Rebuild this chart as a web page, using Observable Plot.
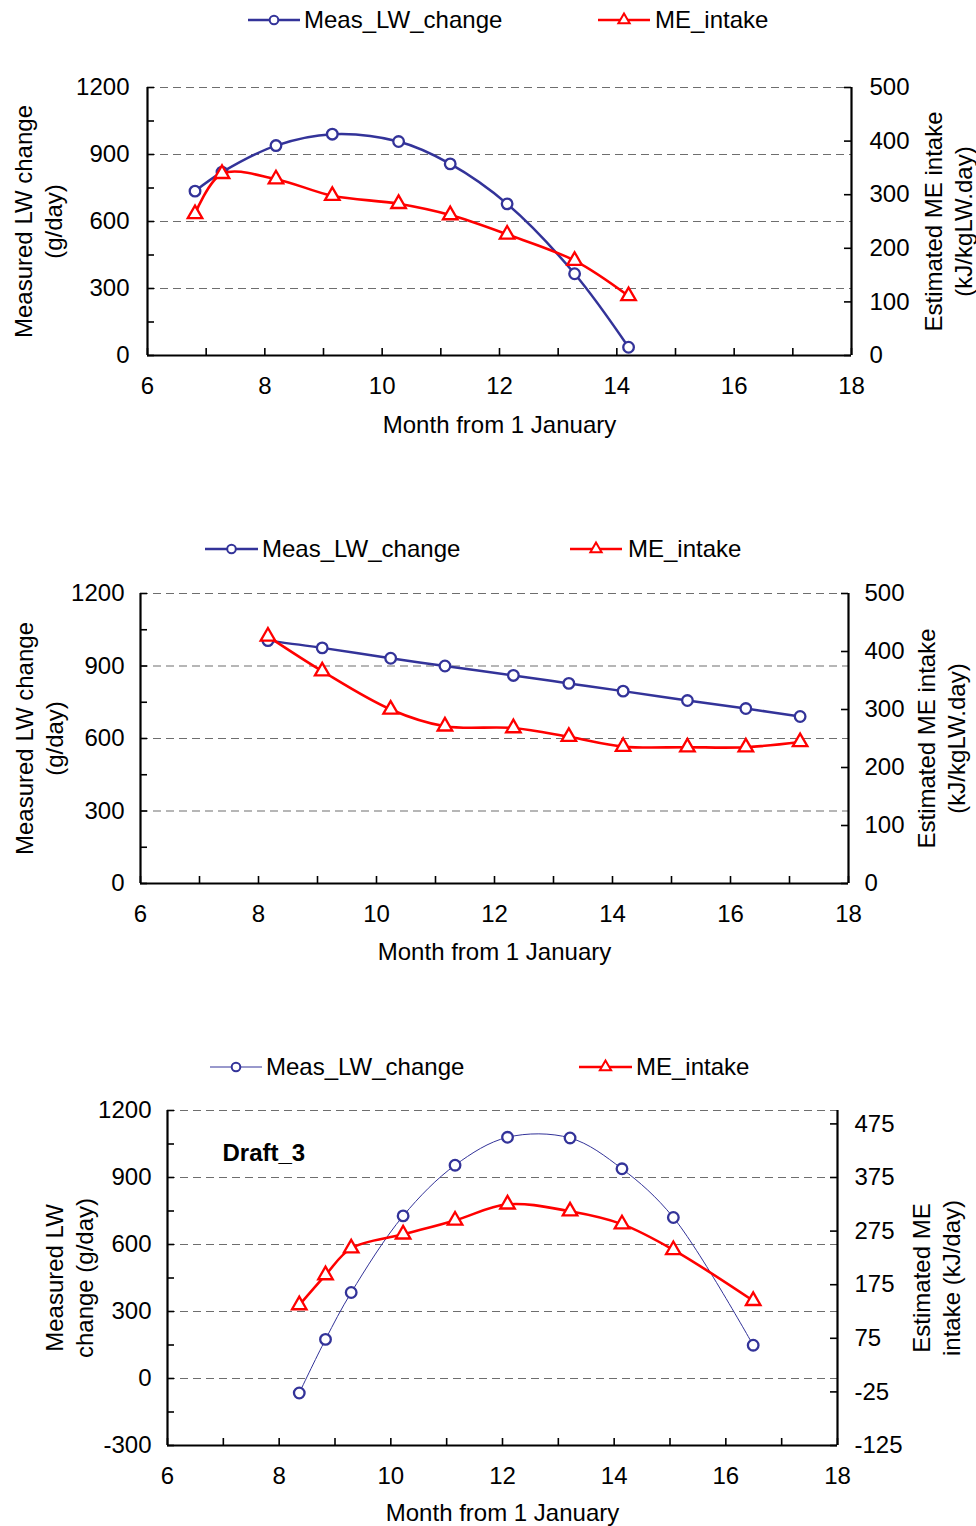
<!DOCTYPE html>
<html>
<head>
<meta charset="utf-8">
<script src="https://cdn.jsdelivr.net/npm/d3@7"></script>
<script src="https://cdn.jsdelivr.net/npm/@observablehq/plot@0.6"></script>
<style>
  body { margin: 0; background: #fff; }
  #root { position: relative; width: 976px; height: 1526px; background: #fff;
          font-family: "Liberation Sans", Arial, sans-serif; }
  .abs { position: absolute; left: 0; }
</style>
</head>
<body>
<div id="root"></div>
<script>
// ---------------- Data ----------------
const seriesNames = ["Meas_LW_change", "ME_intake"];

// Panel 1
const months1 = [6.81, 7.27, 8.19, 9.15, 10.28, 11.16, 12.13, 13.28, 14.20];
const lwChange1 = [736, 821, 940, 991, 958, 858, 679, 366, 37];
const meIntake1 = [264, 339, 329, 298, 283, 262, 226, 177, 111];

// Panel 2
const months2 = [8.16, 9.08, 10.24, 11.16, 12.32, 13.26, 14.18, 15.27, 16.26, 17.18];
const lwChange2 = [1005, 975, 932, 900, 861, 828, 796, 757, 724, 691];
const meIntake2 = [426, 366, 300, 271, 268, 253, 236, 235, 235, 244];

// Panel 3 (Draft_3)
const months3 = [8.36, 8.83, 9.29, 10.22, 11.15, 12.09, 13.21, 14.14, 15.06, 16.49];
const lwChange3 = [-65, 175, 385, 728, 955, 1080, 1077, 939, 721, 149];
const meIntake3 = [137, 193, 243, 269, 295, 325, 312, 288, 240, 145];

// Ticks
const xTicksMajor = [6, 8, 10, 12, 14, 16, 18];
const xTicksMinor = [6, 7, 8, 9, 10, 11, 12, 13, 14, 15, 16, 17, 18];
const leftTicks12 = [0, 300, 600, 900, 1200];
const leftMinor12 = [0, 150, 300, 450, 600, 750, 900, 1050, 1200];
const gridTicks12 = [300, 600, 900, 1200];
const rightTicks12 = [0, 100, 200, 300, 400, 500];
const leftTicks3 = [-300, 0, 300, 600, 900, 1200];
const leftMinor3 = [-300, -150, 0, 150, 300, 450, 600, 750, 900, 1050, 1200];
const gridTicks3 = [0, 300, 600, 900, 1200];
const rightTicks3 = [-125, -25, 75, 175, 275, 375, 475];

const BLUE = "#333399";
const RED = "#ff0000";
const FONT = "'Liberation Sans', Arial, sans-serif";
const FS = 24;

const root = document.getElementById("root");

function panel(cfg) {
  const {months, lw, me, top, height, mt, mr, mb, ml, lDom, rDom, gridT, leftT, leftMinor,
         rightT, leftTitle, rightTitle, leftDx, rightDx, xDy, blueWidth, annotation, lPad, rPad, xPad} = cfg;
  const k = (lDom[1] - lDom[0]) / (rDom[1] - rDom[0]);
  const toL = v => lDom[0] + (v - rDom[0]) * k;
  const toR = v => String(Math.round(rDom[0] + (v - lDom[0]) / k));
  const rows = months.map((m, i) => ({m, lw: lw[i], me: toL(me[i])}));
  const fw = 976 - ml - mr, fh = height - mt - mb;
  const marks = [
    Plot.gridY(gridT, {stroke: "#6e6e6e", strokeOpacity: 1, strokeWidth: 1.2, strokeDasharray: "8,5"}),
    Plot.ruleX([6, 18], {stroke: "black", strokeWidth: 2.2}),
    Plot.ruleY([lDom[0]], {stroke: "black", strokeWidth: 2.2}),
    Plot.tickY(leftMinor, {y: d => d, insetRight: fw - 7, stroke: "black", strokeWidth: 1.6}),
    Plot.tickY(rightT.map(toL), {y: d => d, insetLeft: fw - 7, stroke: "black", strokeWidth: 1.6}),
    Plot.tickX(xTicksMinor, {x: d => d, insetTop: fh - 7, stroke: "black", strokeWidth: 1.6}),
    Plot.axisY(leftT, {tickSize: 0, tickPadding: lPad, tickFormat: d => String(d), label: null, fontSize: FS}),
    Plot.axisY(rightT.map(toL), {anchor: "right", tickSize: 0, tickPadding: rPad, tickFormat: toR, label: null, fontSize: FS}),
    Plot.axisX(xTicksMajor, {tickSize: 0, tickPadding: xPad, tickFormat: d => String(d), label: null, fontSize: FS}),
    Plot.line(rows, {x: "m", y: "lw", stroke: BLUE, strokeWidth: blueWidth, curve: "catmull-rom"}),
    Plot.dot(rows, {x: "m", y: "lw", r: 5.3, stroke: BLUE, fill: "white", strokeWidth: 2.3}),
    Plot.line(rows, {x: "m", y: "me", stroke: RED, strokeWidth: 2.6, curve: "catmull-rom"}),
    Plot.dot(rows, {x: "m", y: "me", symbol: "triangle", r: 5.4, stroke: RED, fill: "white", strokeWidth: 2.3}),
    Plot.text([leftTitle], {text: d => d, frameAnchor: "left", dx: leftDx, rotate: -90, lineHeight: 1.25,
      textAnchor: "middle", lineAnchor: "middle", fontSize: FS, fill: "black"}),
    Plot.text([rightTitle], {text: d => d, frameAnchor: "right", dx: rightDx, rotate: -90, lineHeight: 1.25,
      textAnchor: "middle", lineAnchor: "middle", fontSize: FS, fill: "black"}),
    Plot.text(["Month from 1 January"], {text: d => d, frameAnchor: "bottom", dy: xDy,
      textAnchor: "middle", lineAnchor: "middle", fontSize: FS, fill: "black"})
  ];
  if (annotation) {
    marks.push(Plot.text([annotation.text], {text: d => d, frameAnchor: "top-left", dx: annotation.dx, dy: annotation.dy,
      textAnchor: "start", lineAnchor: "middle", fontSize: FS, fontWeight: "bold", fill: "black"}));
  }
  const svg = Plot.plot({
    width: 976, height,
    marginTop: mt, marginRight: mr, marginBottom: mb, marginLeft: ml,
    x: {domain: [6, 18]},
    y: {domain: lDom},
    style: {fontFamily: FONT, fontSize: FS + "px", color: "black", background: "white", overflow: "visible"},
    marks
  });
  svg.classList.add("abs");
  svg.style.top = top + "px";
  root.appendChild(svg);
}

function legend(cfg) {
  const {top, blueX1, blueX2, blueText, redX1, redX2, redText, blueWidth} = cfg;
  const svg = d3.create("svg").attr("width", 976).attr("height", 40)
    .attr("class", "abs").style("top", (top - 20) + "px")
    .style("font-family", FONT).style("font-size", FS + "px");
  const y = 20;
  svg.append("line").attr("x1", blueX1).attr("x2", blueX2).attr("y1", y).attr("y2", y)
    .attr("stroke", BLUE).attr("stroke-width", blueWidth);
  svg.append("circle").attr("cx", (blueX1 + blueX2) / 2).attr("cy", y).attr("r", 4.3)
    .attr("fill", "white").attr("stroke", BLUE).attr("stroke-width", 2);
  svg.append("text").attr("x", blueText).attr("y", y).attr("dy", "0.35em").text(seriesNames[0]);
  svg.append("line").attr("x1", redX1).attr("x2", redX2).attr("y1", y).attr("y2", y)
    .attr("stroke", RED).attr("stroke-width", 2.6);
  svg.append("path").attr("transform", `translate(${(redX1 + redX2) / 2},${y})`)
    .attr("d", d3.symbol(d3.symbolTriangle, 55)())
    .attr("fill", "white").attr("stroke", RED).attr("stroke-width", 2);
  svg.append("text").attr("x", redText).attr("y", y).attr("dy", "0.35em").text(seriesNames[1]);
  root.appendChild(svg.node());
}

// Panel 1
legend({top: 20, blueX1: 248, blueX2: 300, blueText: 304, redX1: 598, redX2: 650, redText: 655, blueWidth: 2.5});
panel({
  months: months1, lw: lwChange1, me: meIntake1,
  top: 45, height: 405, mt: 42, mb: 95, ml: 147, mr: 125,
  lDom: [0, 1200], rDom: [0, 500], gridT: gridTicks12, leftT: leftTicks12, leftMinor: leftMinor12,
  rightT: rightTicks12,
  leftTitle: "Measured LW change\n(g/day)", rightTitle: "Estimated ME intake\n(kJ/kgLW.day)",
  leftDx: -110, rightDx: 96, xDy: 70, blueWidth: 2.5, lPad: 18, rPad: 18, xPad: 21
});

// Panel 2
legend({top: 549, blueX1: 205, blueX2: 258, blueText: 262, redX1: 570, redX2: 622, redText: 628, blueWidth: 2.5});
panel({
  months: months2, lw: lwChange2, me: meIntake2,
  top: 570, height: 405, mt: 23, mb: 92, ml: 140, mr: 128,
  lDom: [0, 1200], rDom: [0, 500], gridT: gridTicks12, leftT: leftTicks12, leftMinor: leftMinor12,
  rightT: rightTicks12,
  leftTitle: "Measured LW change\n(g/day)", rightTitle: "Estimated ME intake\n(kJ/kgLW.day)",
  leftDx: -102, rightDx: 92, xDy: 69, blueWidth: 2.5, lPad: 16, rPad: 16, xPad: 21
});

// Panel 3
legend({top: 1067, blueX1: 210, blueX2: 262, blueText: 266, redX1: 579, redX2: 632, redText: 636, blueWidth: 1});
panel({
  months: months3, lw: lwChange3, me: meIntake3,
  top: 1090, height: 436, mt: 20, mb: 81, ml: 167, mr: 139,
  lDom: [-300, 1200], rDom: [-125, 500], gridT: gridTicks3, leftT: leftTicks3, leftMinor: leftMinor3,
  rightT: rightTicks3,
  leftTitle: "Measured LW\nchange (g/day)", rightTitle: "Estimated ME\nintake (kJ/day)",
  leftDx: -99, rightDx: 98, xDy: 68, blueWidth: 1, lPad: 16, rPad: 17, xPad: 21,
  annotation: {text: "Draft_3", dx: 55, dy: 43}
});
</script>
</body>
</html>
